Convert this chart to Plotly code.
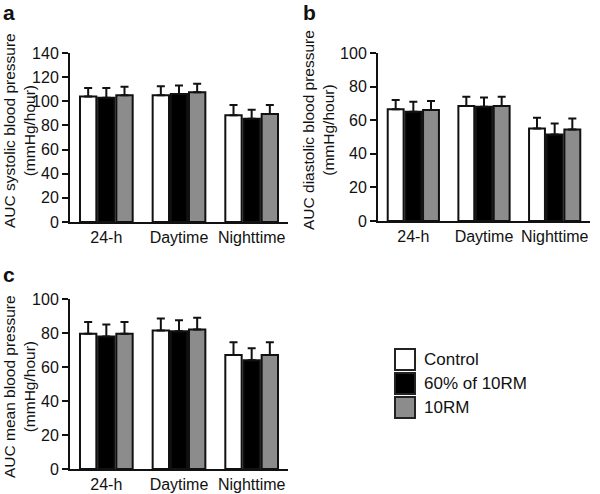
import plotly.graph_objects as go

categories = ["24-h", "Daytime", "Nighttime"]
series_names = ["Control", "60% of 10RM", "10RM"]
colors = ["#ffffff", "#000000", "#8c8c8c"]

# Panel a: systolic
sys_ctrl = [104, 105, 88.5]
sys_60 = [103, 106, 85.5]
sys_10 = [105, 107.5, 89.5]
sys_ctrl_err = [7, 7.5, 8.5]
sys_60_err = [8, 7, 7.5]
sys_10_err = [7, 7, 7.5]

# Panel b: diastolic
dia_ctrl = [66.5, 68.5, 55]
dia_60 = [65, 68, 51.5]
dia_10 = [66, 68.5, 54.5]
dia_ctrl_err = [5.5, 5.5, 6.5]
dia_60_err = [6, 5.5, 6.5]
dia_10_err = [5.5, 5.5, 6.5]

# Panel c: mean
mean_ctrl = [79.5, 81.5, 67]
mean_60 = [78, 81, 64]
mean_10 = [79.5, 82, 67]
mean_ctrl_err = [7, 7, 7.5]
mean_60_err = [7, 6.5, 7]
mean_10_err = [7, 7, 7.5]

W, H = 600, 494
FONT = "Arial, Liberation Sans, sans-serif"

fig = go.Figure()

panels = [
    ("x", "y", [sys_ctrl, sys_60, sys_10], [sys_ctrl_err, sys_60_err, sys_10_err]),
    ("x2", "y2", [dia_ctrl, dia_60, dia_10], [dia_ctrl_err, dia_60_err, dia_10_err]),
    ("x3", "y3", [mean_ctrl, mean_60, mean_10], [mean_ctrl_err, mean_60_err, mean_10_err]),
]

for xa, ya, vals, errs in panels:
    for name, color, v, e in zip(series_names, colors, vals, errs):
        fig.add_trace(go.Bar(
            x=categories, y=v, name=name, xaxis=xa, yaxis=ya,
            marker=dict(color=color, line=dict(color="#111111", width=2)),
            error_y=dict(type="data", array=e, arrayminus=[0] * len(e), symmetric=False,
                         color="#111111", thickness=2, width=4),
            showlegend=False,
        ))

def px_x(p):
    return p / W

def px_y(p):
    return 1 - p / H

axis_common = dict(showline=True, linewidth=2, linecolor="#111111", showgrid=False,
                   zeroline=False, automargin=False,
                   tickfont=dict(size=16, color="#111111", family=FONT))

xcommon = dict(axis_common, ticks="", range=[-0.5, 2.5], fixedrange=True)
ycommon = dict(axis_common, ticks="outside", ticklen=6, tickwidth=2, tickcolor="#111111")

fig.update_layout(
    width=W, height=H,
    margin=dict(l=0, r=0, t=0, b=0, autoexpand=False),
    paper_bgcolor="white", plot_bgcolor="white",
    barmode="group", bargap=0.25, bargroupgap=0.1,
    font=dict(family=FONT, color="#111111"),
    xaxis=dict(xcommon, domain=[px_x(70), px_x(288)], anchor="y"),
    yaxis=dict(ycommon, domain=[px_y(222), px_y(53)], range=[0, 140], dtick=20, anchor="x"),
    xaxis2=dict(xcommon, domain=[px_x(378), px_x(590)], anchor="y2"),
    yaxis2=dict(ycommon, domain=[px_y(221), px_y(53)], range=[0, 100], dtick=20, anchor="x2"),
    xaxis3=dict(xcommon, domain=[px_x(70), px_x(288)], anchor="y3"),
    yaxis3=dict(ycommon, domain=[px_y(469), px_y(299)], range=[0, 100], dtick=20, anchor="x3"),
)

annotations = []
# panel letters
for letter, x, y in [("a", 1, -1), ("b", 301, -1), ("c", 1, 261)]:
    annotations.append(dict(text="<b>" + letter + "</b>", x=px_x(x), y=px_y(y), xref="paper", yref="paper",
                            xanchor="left", yanchor="top", showarrow=False,
                            font=dict(size=21, family=FONT, color="#111111")))
# y-axis titles
for text, x, y in [
    ("AUC systolic blood pressure<br>(mmHg/hour)", 19, 131),
    ("AUC diastolic blood pressure<br>(mmHg/hour)", 319, 130),
    ("AUC mean blood pressure<br>(mmHg/hour)", 19, 387),
]:
    annotations.append(dict(text=text, x=px_x(x), y=px_y(y), xref="paper", yref="paper",
                            xanchor="center", yanchor="middle", showarrow=False, textangle=-90,
                            font=dict(size=15.5, family=FONT, color="#111111")))

# legend (custom)
shapes = []
leg_y = [349, 373, 397]
for name, color, y0 in zip(series_names, colors, leg_y):
    shapes.append(dict(type="rect", xref="paper", yref="paper",
                       x0=px_x(395), x1=px_x(415), y0=px_y(y0 + 21), y1=px_y(y0),
                       fillcolor=color, line=dict(color="#222222", width=2)))
    annotations.append(dict(text=name, x=px_x(422), y=px_y(y0 + 10.5), xref="paper", yref="paper",
                            xanchor="left", yanchor="middle", showarrow=False,
                            font=dict(size=17, family=FONT, color="#111111")))

fig.update_layout(annotations=annotations, shapes=shapes)

fig.write_html("out.html", config={"displayModeBar": False},
               post_script="document.body.style.margin='0';")
